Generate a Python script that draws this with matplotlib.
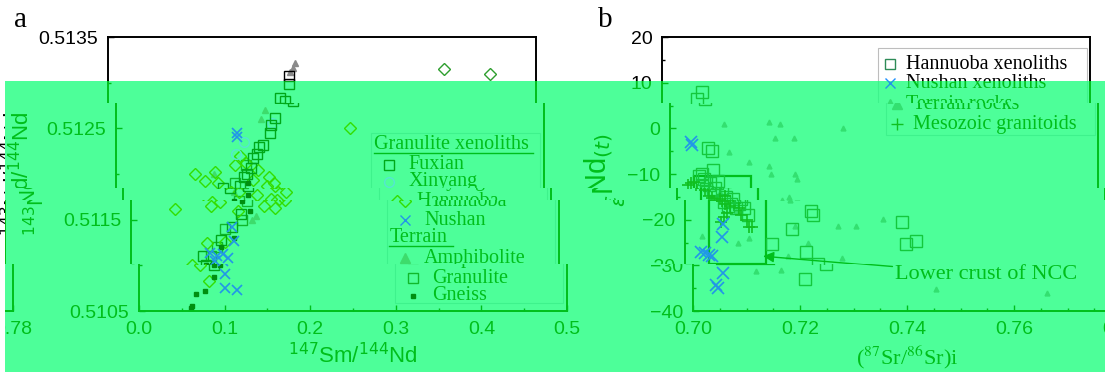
import matplotlib
matplotlib.use('Agg')
import matplotlib.pyplot as plt
from matplotlib.patches import Rectangle
from matplotlib.ticker import MultipleLocator
from matplotlib.transforms import Bbox, TransformedBbox

plt.rcParams['font.family'] = 'sans-serif'
plt.rcParams['font.sans-serif'] = ['Liberation Sans', 'DejaVu Sans']

# ---------------- panel a: 147Sm/144Nd vs 143Nd/144Nd ----------------
fux_sm = [0.2115, 0.2115, 0.201, 0.207, 0.186, 0.182, 0.180, 0.172, 0.168, 0.165, 0.161,
          0.158, 0.154, 0.150, 0.146, 0.125, 0.1285, 0.118, 0.105, 0.084, 0.088]
fux_nd = [0.51307, 0.51299, 0.51283, 0.51280, 0.51261, 0.51254, 0.51245, 0.51232, 0.51230,
          0.51222, 0.51218, 0.51207, 0.51200, 0.51197, 0.51187, 0.51185, 0.51156, 0.51142,
          0.51128, 0.51110, 0.51100]
xin_sm = [0.183, 0.141, 0.150]
xin_nd = [0.51256, 0.51222, 0.51235]
han_sm = [0.392, 0.446, 0.274, 0.093, 0.104, 0.116, 0.153, 0.166, 0.179, 0.177, 0.161,
          0.093, 0.1035, 0.1566, 0.173, 0.180, 0.155, 0.168, 0.051, 0.089, 0.071, 0.082,
          0.110, 0.120, 0.135, 0.140, 0.190, 0.185, 0.125, 0.145]
han_nd = [0.51315, 0.51309, 0.51250, 0.51200, 0.51192, 0.51202, 0.51212, 0.51204, 0.51197,
          0.51187, 0.51193, 0.51165, 0.51169, 0.51177, 0.51173, 0.51172, 0.51165, 0.51163,
          0.51162, 0.51124, 0.51100, 0.51083, 0.51126, 0.51190, 0.51180, 0.51210, 0.51180,
          0.51190, 0.51160, 0.51220]
nus_sm = [0.1425, 0.1425, 0.118, 0.120, 0.092, 0.100, 0.108, 0.113, 0.1005, 0.1005, 0.114, 0.098]
nus_nd = [0.51245, 0.51240, 0.51142, 0.51127, 0.51114, 0.51110, 0.51112, 0.51108, 0.51091,
          0.51075, 0.51073, 0.51105]
amp_sm = [0.216, 0.219, 0.213, 0.115, 0.141, 0.146, 0.175, 0.170, 0.130]
amp_nd = [0.51316, 0.51322, 0.51312, 0.51200, 0.51150, 0.51154, 0.51270, 0.51260, 0.51180]
gra_sm = [0.135, 0.140, 0.100, 0.093, 0.152, 0.130, 0.110]
gra_nd = [0.51170, 0.51190, 0.51120, 0.51110, 0.51210, 0.51150, 0.51140]
gne_sm = [0.061, 0.062, 0.067, 0.077, 0.088, 0.088, 0.139, 0.146, 0.120, 0.095, 0.105, 0.130, 0.155]
gne_nd = [0.51053, 0.51055, 0.51069, 0.51072, 0.51087, 0.51100, 0.51160, 0.51177, 0.51130,
          0.51100, 0.51120, 0.51170, 0.51190]
a_xticks = [0.0, 0.1, 0.2, 0.3, 0.4, 0.5]
a_xticklabels = ['0.0', '0.1', '0.2', '0.3', '0.4', '0.5']
a_yticks = [0.5105, 0.5115, 0.5125, 0.5135]
a_yticklabels = ['0.5105', '0.5115', '0.5125', '0.5135']

# ---------------- panel b: (87Sr/86Sr)i vs eNd(t) ----------------
hb_sr = [0.7066, 0.7075, 0.7072, 0.7079, 0.7061, 0.7081, 0.7065, 0.7075, 0.7085, 0.7092,
         0.7088, 0.7080, 0.7100, 0.7118, 0.7070, 0.7236, 0.7239, 0.7406, 0.7413, 0.7432,
         0.7163, 0.7226, 0.7249, 0.7209, 0.7200, 0.7055, 0.7060, 0.7068, 0.7090, 0.7072,
         0.7095, 0.7105, 0.7110]
hb_nd = [6.5, 8.0, -4.4, -5.0, -9.9, -9.1, -11.0, -12.0, -13.0, -15.0, -16.0, -17.0, -16.5,
         -19.0, -14.0, -18.1, -18.9, -20.5, -25.3, -24.7, -25.3, -27.1, -29.7, -33.0, -22.0,
         -10.5, -12.5, -13.2, -11.5, -16.2, -17.5, -15.5, -17.5]
nb_sr = [0.7042, 0.7040, 0.7071, 0.7069, 0.7037, 0.7030, 0.7045, 0.7056, 0.7043, 0.7046, 0.7050]
nb_nd = [-3.6, -3.0, -21.0, -23.8, -27.3, -27.0, -27.8, -31.7, -34.3, -35.0, -28.0]
tb_sr = [0.7101, 0.7186, 0.7206, 0.7325, 0.7111, 0.7197, 0.7233, 0.7149, 0.7186, 0.7189,
         0.7235, 0.7238, 0.7210, 0.7197, 0.7206, 0.7286, 0.7320, 0.7371, 0.7032, 0.7099,
         0.7229, 0.7117, 0.7165, 0.7192, 0.7294, 0.7454, 0.7662, 0.7080, 0.7120, 0.7095]
tb_nd = [0.95, 1.4, 0.95, 0.1, -5.2, -2.2, -2.2, -7.4, -8.2, -10.0, -9.9, -11.0, -15.0,
         -15.7, -21.3, -21.3, -21.3, -19.9, -23.6, -25.0, -25.1, -31.2, -31.0, -28.0, -28.5,
         -35.2, -36.0, -14.0, -24.0, -18.0]
gb_sr = [0.7035, 0.7040, 0.7045, 0.7052, 0.7060, 0.7065, 0.7070, 0.7075, 0.7080, 0.7085,
         0.7078, 0.7090, 0.7100, 0.7115, 0.7120, 0.7125, 0.7072, 0.7068, 0.7105]
gb_nd = [-12.3, -12.0, -11.8, -13.5, -14.8, -15.2, -16.0, -16.5, -15.5, -17.0, -18.5, -14.8,
         -17.5, -20.0, -21.5, -21.7, -19.5, -20.5, -19.0]
ncc_box = (0.7045, 0.7152, -29.7, -10.4)
b_xticks = [0.70, 0.72, 0.74, 0.76, 0.78]
b_xticklabels = ['0.70', '0.72', '0.74', '0.76', '0.78']
b_yticks = [-40, -30, -20, -10, 0, 10, 20]

# ---------------- layout (pixels) ----------------
W, H = 1105, 372
A_LEFT, B_LEFT, AX_TOP, AX_BOTTOM, AX_W = 108, 662, 37, 311, 428
GREEN_TOP = 81
BANDS = [(81, 103, 0.0), (103, 188, 7.5), (188, 200, 15.0), (200, 264, 23.0), (264, 372, 31.0)]
WRAP = 1108

NORMAL = dict(ink='#000000', fux='#000000', xin='#8fd8e8', han='#2e9e2e', nus='#1e90ff',
              amp='#8a8a8a', gra='#4d4d4d', gne='#000000', frame='#bdbdbd', hb='#2e8b57',
              ter='#9a9a9a', grt='#000000')
TINT = dict(ink='#00bf1a', fux='#00a818', xin='#55e6d2', han='#33dd00', nus='#2196e8',
            amp='#3ddc6c', gra='#11b82a', gne='#008f10', frame='#3ef28c', hb='#14c83c',
            ter='#33e070', grt='#10c020')
GREEN = '#4dff99'
SERIF = 'Liberation Serif'

fig = plt.figure(figsize=(W / 100, H / 100), dpi=100)


def style(ax, pal):
    ax.patch.set_visible(False)
    for s in ax.spines.values():
        s.set_color(pal['ink'])
        s.set_linewidth(1.4)
    ax.tick_params(which='both', direction='in', colors=pal['ink'], labelsize=14, width=1)
    ax.tick_params(which='major', length=4, pad=7)
    ax.tick_params(which='minor', length=2.5)


def pts(ax, x, y, marker, col, ms, filled=False, mew=1.0):
    ax.plot(x, y, ls='none', marker=marker, ms=ms, mec=col,
            mfc=col if filled else 'none', mew=mew)


def legend_row(ax, fx_m, fx_t, fy, marker, col, ms, filled, label, pal):
    ax.plot([fx_m], [fy], transform=ax.transAxes, ls='none', marker=marker, ms=ms,
            mec=col, mfc=col if filled else 'none', mew=1)
    ax.text(fx_t, fy, label, transform=ax.transAxes, va='center', ha='left',
            family=SERIF, fontsize=14.5, color=pal['ink'])


def draw_a(ax, pal):
    style(ax, pal)
    pts(ax, amp_sm, amp_nd, '^', pal['amp'], 4.5, True)
    pts(ax, gra_sm, gra_nd, 's', pal['gra'], 6.5)
    pts(ax, han_sm, han_nd, 'D', pal['han'], 6)
    pts(ax, xin_sm, xin_nd, 'o', pal['xin'], 7)
    pts(ax, fux_sm, fux_nd, 's', pal['fux'], 6.5)
    pts(ax, gne_sm, gne_nd, 's', pal['gne'], 3.2, True)
    pts(ax, nus_sm, nus_nd, 'x', pal['nus'], 7, mew=1.2)
    ax.set_xlim(0, 0.5)
    ax.set_ylim(0.5105, 0.5135)
    ax.set_xticks(a_xticks)
    ax.set_xticklabels(a_xticklabels)
    ax.set_yticks(a_yticks)
    ax.set_yticklabels(a_yticklabels)
    ax.xaxis.set_minor_locator(MultipleLocator(0.05))
    ax.yaxis.set_minor_locator(MultipleLocator(0.0005))
    ax.text(0.5, -0.161, r'$^{147}$Sm/$^{144}$Nd', transform=ax.transAxes, ha='center',
            va='center', fontsize=16, color=pal['ink'])
    ax.text(-0.22, 0.5, r'$^{143}$Nd/$^{144}$Nd', transform=ax.transAxes, ha='center',
            va='center', fontsize=16, rotation=90, color=pal['ink'])
    ax.text(-0.205, 1.062, 'a', transform=ax.transAxes, ha='center', va='center',
            family=SERIF, fontsize=21, color=pal['ink'])
    # legend, built by hand because of the underlined group headers
    ax.add_patch(Rectangle((0.598, 0.029), 0.393, 0.621, transform=ax.transAxes,
                           fill=False, ec=pal['frame'], lw=0.8))
    ax.text(0.604, 0.606, 'Granulite xenoliths', transform=ax.transAxes, va='center',
            family=SERIF, fontsize=14.5, color=pal['ink'])
    ax.plot([0.604, 0.975], [0.577, 0.577], transform=ax.transAxes, color=pal['ink'], lw=1)
    ax.text(0.604, 0.270, 'Terrain', transform=ax.transAxes, va='center',
            family=SERIF, fontsize=14.5, color=pal['ink'])
    ax.plot([0.603, 0.752], [0.237, 0.237], transform=ax.transAxes, color=pal['ink'], lw=1)
    rows = [(0.533, 's', 'fux', 6.5, False, 'Fuxian'),
            (0.471, 'o', 'xin', 7, False, 'Xinyang'),
            (0.401, 'D', 'han', 6, False, 'Hannuoba'),
            (0.332, 'x', 'nus', 7, False, 'Nushan'),
            (0.193, '^', 'amp', 7, True, 'Amphibolite'),
            (0.120, 's', 'gra', 6.5, False, 'Granulite'),
            (0.055, 's', 'gne', 3.2, True, 'Gneiss')]
    for fy, m, key, ms, filled, lab in rows:
        legend_row(ax, 0.640, 0.685, fy, m, pal[key], ms, filled, lab, pal)


def draw_b(ax, pal):
    style(ax, pal)
    x0, x1, y0, y1 = ncc_box
    ax.add_patch(Rectangle((x0, y0), x1 - x0, y1 - y0, fill=False, ec=pal['ink'], lw=1.6))
    pts(ax, tb_sr, tb_nd, '^', pal['ter'], 3.5, True)
    pts(ax, hb_sr, hb_nd, 's', pal['hb'], 9)
    pts(ax, gb_sr, gb_nd, '+', pal['grt'], 8, mew=1.2)
    pts(ax, nb_sr, nb_nd, 'x', pal['nus'], 8, mew=1.2)
    ax.set_xlim(0.70, 0.78)
    ax.set_ylim(-40, 20)
    ax.set_xticks(b_xticks)
    ax.set_xticklabels(b_xticklabels)
    ax.set_yticks(b_yticks)
    ax.xaxis.set_minor_locator(MultipleLocator(0.005))
    ax.yaxis.set_minor_locator(MultipleLocator(5))
    ann = ax.annotate('Lower crust of NCC', xy=(0.7146, -28.0), xytext=(0.7378, -32.0),
                      va='center', ha='left', family=SERIF, fontsize=16, color=pal['ink'],
                      arrowprops=dict(arrowstyle='-|>', color=pal['ink'], lw=1,
                                      mutation_scale=16, shrinkA=0, shrinkB=0))
    ax.text(0.5, -0.17, r'($^{87}$Sr/$^{86}$Sr)i', transform=ax.transAxes, ha='center',
            va='center', family=SERIF, math_fontfamily='stix', fontsize=16, color=pal['ink'])
    ax.text(-0.166, 0.515, r'${}_{\varepsilon}$Nd$_{(t)}$', transform=ax.transAxes,
            ha='center', va='center', fontsize=21, rotation=90, color=pal['ink'])
    ax.text(-0.133, 1.062, 'b', transform=ax.transAxes, ha='center', va='center',
            family=SERIF, fontsize=21, color=pal['ink'])
    ax.add_patch(Rectangle((0.505, 0.642), 0.488, 0.318, transform=ax.transAxes,
                           fill=False, ec=pal['frame'], lw=0.8))
    rows = [(0.901, 's', 'hb', 7, False, 'Hannuoba xenoliths'),
            (0.832, 'x', 'nus', 7, False, 'Nushan xenoliths'),
            (0.755, '^', 'ter', 7, True, 'Terrain rocks'),
            (0.682, '+', 'grt', 9, False, 'Mesozoic granitoids')]
    for fy, m, key, ms, filled, lab in rows:
        legend_row(ax, 0.532, 0.570, fy, m, pal[key], ms, filled, lab, pal)
    return ann


def build(dx, pal, z):
    bottom = 1 - AX_BOTTOM / H
    height = (AX_BOTTOM - AX_TOP) / H
    axa = fig.add_axes([(A_LEFT + dx) / W, bottom, AX_W / W, height])
    axb = fig.add_axes([(B_LEFT + dx) / W, bottom, AX_W / W, height])
    axa.set_zorder(z)
    axb.set_zorder(z)
    draw_a(axa, pal)
    ann = draw_b(axb, pal)
    return [axa, axb], [ann]


# clean copy underneath
build(0, NORMAL, 0)

# green band over the lower part of the figure
fig.add_artist(Rectangle((5 / W, 0), 1 - 5 / W, 1 - GREEN_TOP / H, transform=fig.transFigure,
                         fc=GREEN, ec='none', zorder=5))

# shifted, tinted strips
strips = []
for y0, y1, dx in BANDS:
    box = TransformedBbox(Bbox([[5 / W, 1 - y1 / H], [1, 1 - y0 / H]]), fig.transFigure)
    strips.append((box, build(dx, TINT, 10)))
    if dx >= 15:
        strips.append((box, build(dx - WRAP, TINT, 10)))

fig.canvas.draw()
for box, (axes, anns) in strips:
    for ax in axes:
        for art in ax.findobj(include_self=False):
            art.set_clip_box(box)
            art.set_clip_on(True)
    for ann in anns:
        ann.arrow_patch.set_clip_box(box)
        ann.arrow_patch.set_clip_on(True)

fig.savefig('out.png', dpi=100)
